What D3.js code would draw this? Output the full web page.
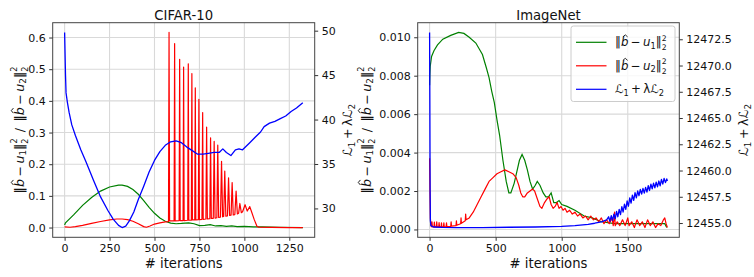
<!DOCTYPE html>
<html>
<head>
<meta charset="utf-8">
<script src="https://cdn.jsdelivr.net/npm/d3@7"></script>
<style>
  body { margin: 0; background: #fff; }
  text { font-family: "DejaVu Sans", sans-serif; fill: #111; }
</style>
</head>
<body>
<svg id="chart" width="754" height="277"></svg>
<script>
// ---- CIFAR-10 (iteration, value) ----
const cifarGreen = [
  [0,0.008],[5,0.015],[50,0.04],[100,0.07],[150,0.095],[200,0.115],[250,0.128],[300,0.134],
  [320,0.134],[350,0.13],[380,0.12],[410,0.105],[440,0.085],[470,0.064],[500,0.045],[530,0.03],
  [560,0.02],[590,0.014],[620,0.012],[650,0.013],[690,0.015],[720,0.012],[750,0.006],[780,0.007],
  [810,0.009],[840,0.005],[870,0.006],[900,0.004],[930,0.005],[960,0.003],[1000,0.004],[1050,0.002],
  [1100,0.002],[1200,0.001],[1325,0.0]
];
const cifarRed = [
  [0,0.002],[30,0.001],[60,0.003],[100,0.007],[150,0.013],[200,0.019],[250,0.024],[290,0.027],
  [320,0.027],[350,0.025],[380,0.02],[410,0.012],[440,0.003],[455,0.001],[475,0.005],[500,0.011],
  [530,0.015],[560,0.018],[578,0.019],
  [581,0.616],[584,0.021],[609,0.021],[612,0.581],[615,0.021],
  [637,0.022],[640,0.531],[643,0.022],[659,0.022],[662,0.507],[665,0.022],
  [685,0.023],[688,0.517],[691,0.023],[705,0.023],[708,0.486],[711,0.024],
  [724,0.024],[727,0.441],[730,0.024],[744,0.025],[747,0.405],[750,0.025],
  [764,0.026],[768,0.363],[771,0.026],[786,0.027],[790,0.317],[794,0.027],
  [808,0.028],[812,0.283],[816,0.029],[827,0.029],[832,0.272],[837,0.03],
  [847,0.031],[852,0.26],[857,0.032],[867,0.033],[873,0.209],[879,0.034],
  [885,0.035],[891,0.178],[897,0.036],[906,0.037],[912,0.157],[918,0.038],
  [926,0.039],[932,0.142],[938,0.04],[947,0.041],[954,0.115],[961,0.043],
  [968,0.045],[975,0.076],[983,0.047],[990,0.05],[1004,0.072],[1016,0.052],
  [1030,0.066],[1040,0.05],[1055,0.025],[1070,0.004],[1080,0.001],[1150,0.0005],[1250,0.0],[1325,0.0]
];
const cifarBlue = [
  [0,49.8],[5,45],[8,43],[15,42],[25,40.8],[40,39.4],[60,38.2],[90,36.6],[120,35.2],[160,33.2],
  [200,31.3],[240,29.8],[270,28.8],[300,28.1],[320,27.85],[340,28.0],[360,28.6],[385,29.6],
  [410,31.0],[440,32.5],[470,34.1],[500,35.4],[530,36.4],[560,37.1],[590,37.5],[620,37.6],
  [650,37.4],[680,36.9],[710,36.5],[740,36.1],[770,36.1],[800,36.2],[830,36.3],[860,36.3],
  [880,36.7],[900,36.3],[925,35.95],[950,36.6],[970,36.7],[990,36.6],[1010,37.0],[1030,37.4],
  [1060,38.0],[1090,38.6],[1110,39.2],[1140,39.6],[1170,39.8],[1200,40.1],[1230,40.4],
  [1260,40.9],[1290,41.3],[1325,41.9]
];

// ---- ImageNet (iteration, value) ----
const imagenetGreen = [
  [0,0.0075],[2,0.0080],[5,0.0085],[15,0.0090],[33,0.0093],[60,0.0096],[100,0.0099],[160,0.0101],
  [220,0.01025],[260,0.0102],[300,0.0100],[350,0.0097],[400,0.0091],[430,0.0084],[450,0.0079],
  [470,0.0072],[490,0.0066],[510,0.0057],[530,0.0049],[555,0.0036],[580,0.0025],[600,0.0019],
  [615,0.0019],[640,0.0024],[660,0.0030],[680,0.0036],[700,0.0039],[720,0.0036],[740,0.0031],
  [760,0.0025],[780,0.0021],[800,0.0023],[815,0.0025],[835,0.0023],[860,0.0019],[880,0.0017],
  [900,0.0017],[920,0.0019],[940,0.0014],[960,0.0014],[980,0.0015],[1000,0.0013],[1040,0.0012],
  [1100,0.0010],[1170,0.0007],[1230,0.0006],[1300,0.0004],[1400,0.0003],[1500,0.0003],
  [1600,0.0003],[1700,0.0003],[1780,0.0003],[1795,0.0001]
];
const imagenetRed = [
  [0,0.0037],[3,0.0020],[6,0.0006],[10,0.0002],
  [15,0.00014],[18,0.0004],[21,0.00014],[33,0.00014],[36,0.00038],[39,0.00014],
  [51,0.00014],[54,0.0004],[57,0.00014],[69,0.00014],[72,0.00036],[75,0.00014],
  [87,0.00014],[90,0.00035],[93,0.00014],[105,0.00014],[108,0.00035],[111,0.00014],
  [125,0.00015],[128,0.00034],[131,0.00015],[160,0.00016],[163,0.0004],[166,0.00017],
  [200,0.0002],[203,0.00045],[206,0.00022],[235,0.0003],[238,0.0006],[241,0.00032],
  [270,0.00045],[273,0.0008],[276,0.0005],[300,0.0006],[330,0.0009],[360,0.0013],[390,0.0017],
  [420,0.0021],[450,0.0025],[480,0.0027],[510,0.0029],[540,0.0030],[570,0.0031],[600,0.0030],
  [630,0.0029],[655,0.0027],[675,0.0023],[690,0.0019],[705,0.0017],[720,0.0017],[740,0.0019],
  [760,0.0020],[780,0.0021],[795,0.0020],[815,0.0016],[835,0.0012],[850,0.0011],[870,0.0014],
  [890,0.0016],[905,0.0017],[920,0.0013],[935,0.0011],[950,0.0012],[965,0.0014],[980,0.0011],
  [995,0.0012],[1010,0.0010],[1025,0.0011],[1040,0.0009],[1060,0.0010],[1080,0.0008],
  [1100,0.0009],[1120,0.0007],[1140,0.0008],[1160,0.0006],[1180,0.0007],[1200,0.0005],
  [1220,0.0007],[1240,0.0005],[1260,0.0006],[1280,0.0004],[1300,0.0006],[1320,0.0003],
  [1340,0.0005],[1360,0.0003],[1380,0.0006],[1390,0.0002],[1400,0.0009],[1405,0.0002],
  [1420,0.0004],[1440,0.0002],[1460,0.0005],[1480,0.0002],[1500,0.0006],[1510,0.0002],
  [1530,0.0004],[1550,0.0001],[1570,0.0005],[1590,0.0002],[1610,0.0004],[1630,0.0001],
  [1650,0.0005],[1670,0.0002],[1690,0.0004],[1710,0.0001],[1730,0.0003],[1750,0.0002],
  [1770,0.0005],[1780,0.0006],[1790,0.0003],[1800,0.0001]
];
const imagenetBlue = [
  [0,12473.15],[2,12466],[4,12458],[6,12455.2],[10,12454.75],[30,12454.62],[100,12454.58],
  [200,12454.57],[400,12454.57],[600,12454.6],[800,12454.62],[1000,12454.68],[1100,12454.75],
  [1200,12454.88],[1250,12454.98],[1300,12455.12],[1340,12455.3],
  [1355,12455.6],[1365,12455.15],[1375,12455.7],[1385,12455.25],[1395,12455.85],[1405,12455.4],
  [1415,12456.1],[1425,12455.6],[1435,12456.3],[1445,12455.8],[1455,12456.55],[1465,12456.05],
  [1475,12456.8],[1485,12456.3],[1495,12457.1],[1505,12456.6],[1515,12457.4],[1525,12456.9],
  [1535,12457.65],[1545,12457.15],[1555,12457.9],[1565,12457.4],[1575,12458.05],[1585,12457.6],
  [1595,12458.2],[1605,12457.75],[1615,12458.3],[1625,12457.85],[1635,12458.4],[1645,12457.95],
  [1655,12458.55],[1665,12458.1],[1675,12458.7],[1685,12458.25],[1695,12458.8],[1705,12458.35],
  [1715,12458.9],[1725,12458.45],[1735,12459.0],[1745,12458.55],[1755,12459.15],[1765,12458.7],
  [1775,12459.25],[1785,12458.85],[1795,12459.2],[1800,12459.0]
];

// ---- ticks ----
const cifarXTicks = [0, 250, 500, 750, 1000, 1250];
const cifarLeftTicks = [0.0, 0.1, 0.2, 0.3, 0.4, 0.5, 0.6];
const cifarRightTicks = [30, 35, 40, 45, 50];
const imagenetXTicks = [0, 500, 1000, 1500];
const imagenetLeftTicks = [0.000, 0.002, 0.004, 0.006, 0.008, 0.010];
const imagenetRightTicks = [12455.0, 12457.5, 12460.0, 12462.5, 12465.0, 12467.5, 12470.0, 12472.5];

const svg = d3.select("#chart");
svg.append("rect").attr("width", 754).attr("height", 277).attr("fill", "#fff");

const tickFs = 11, labelFs = 13.2, mathFs = 12.6, legendFs = 11.8;

// matplotlib style 5% margins
function pad(ext) {
  const m = (ext[1] - ext[0]) * 0.05;
  return [ext[0] - m, ext[1] + m];
}

// mathtext-ish helper: pieces of [text, kind]; hats are drawn as small paths
function addMath(parent, pieces, fs, attrs) {
  const t = parent.append("text");
  Object.keys(attrs || {}).forEach(k => t.attr(k, attrs[k]));
  let base = 0, idx = 0;
  const hats = [];
  pieces.forEach(p => {
    const s = p[0], kind = p[1];
    if (kind === "n" || kind === "i" || kind === "hat") {
      t.append("tspan").attr("dy", -base).attr("font-size", fs)
        .attr("font-style", kind === "n" ? null : "italic").text(s);
      if (kind === "hat") hats.push(idx);
      base = 0;
      idx += s.length;
    } else if (kind === "sub") {
      const sh = 0.22 * fs;
      t.append("tspan").attr("dy", sh - base).attr("font-size", 0.7 * fs).text(s);
      base = sh;
      idx += s.length;
    } else if (kind === "supsub") {
      const up = -0.48 * fs, dn = 0.32 * fs;
      t.append("tspan").attr("dy", up - base).attr("font-size", 0.65 * fs).text("2");
      t.append("tspan").attr("dy", dn - up).attr("dx", -0.636 * 0.65 * fs)
        .attr("font-size", 0.65 * fs).text("2");
      base = dn;
      idx += 2;
    }
  });
  const node = t.node();
  hats.forEach(i => {
    const pos = node.getStartPositionOfChar(i);
    const w = node.getSubStringLength(i, 1);
    const cx = pos.x + w * 0.58, by = pos.y - 0.8 * fs, ty = pos.y - 0.97 * fs, hw = 0.2 * fs;
    parent.append("path")
      .attr("d", `M${cx - hw},${by}L${cx},${ty}L${cx + hw},${by}`)
      .attr("fill", "none").attr("stroke", "#111").attr("stroke-width", 0.075 * fs);
  });
  return t;
}
function norm(k) {
  return [["\u2016", "n"], ["b", "hat"], ["\u2009\u2212\u2009", "n"], ["u", "i"],
          [k, "sub"], ["\u2016", "n"], ["", "supsub"]];
}
const lossPieces = [["\u2112", "n"], ["1", "sub"], ["\u2009+\u2009", "n"], ["\u03bb", "n"],
                    ["\u2112", "n"], ["2", "sub"], ["", "n"]];

function drawPanel(o) {
  const all = o.green.concat(o.red);
  const x = d3.scaleLinear().domain(pad(d3.extent(all.concat(o.blue), d => d[0]))).range([o.x0, o.x1]);
  const yL = d3.scaleLinear().domain(pad(d3.extent(all, d => d[1]))).range([o.y1, o.y0]);
  const yR = d3.scaleLinear().domain(pad(d3.extent(o.blue, d => d[1]))).range([o.y1, o.y0]);

  const g = svg.append("g");

  // grid
  g.selectAll(".gx").data(o.xTicks).enter().append("line")
    .attr("x1", d => x(d)).attr("x2", d => x(d)).attr("y1", o.y0).attr("y2", o.y1)
    .attr("stroke", "#d9d9d9").attr("stroke-width", 1.1);
  g.selectAll(".gy").data(o.leftTicks).enter().append("line")
    .attr("y1", d => yL(d)).attr("y2", d => yL(d)).attr("x1", o.x0).attr("x2", o.x1)
    .attr("stroke", "#d9d9d9").attr("stroke-width", 1.1);

  const clipId = "clip" + o.id;
  svg.append("clipPath").attr("id", clipId).append("rect")
    .attr("x", o.x0).attr("y", o.y0).attr("width", o.x1 - o.x0).attr("height", o.y1 - o.y0);
  const lines = g.append("g").attr("clip-path", `url(#${clipId})`);

  const lineL = d3.line().x(d => x(d[0])).y(d => yL(d[1]));
  const lineR = d3.line().x(d => x(d[0])).y(d => yR(d[1]));
  lines.append("path").datum(o.green).attr("d", lineL).attr("fill", "none")
    .attr("stroke", "#008000").attr("stroke-width", 1.2);
  lines.append("path").datum(o.red).attr("d", lineL).attr("fill", "none")
    .attr("stroke", "#ff0000").attr("stroke-width", 1.2).attr("stroke-linejoin", "round");
  lines.append("path").datum(o.blue).attr("d", lineR).attr("fill", "none")
    .attr("stroke", "#0000ff").attr("stroke-width", 1.3).attr("stroke-linejoin", "round");

  // frame
  g.append("rect").attr("x", o.x0).attr("y", o.y0).attr("width", o.x1 - o.x0)
    .attr("height", o.y1 - o.y0).attr("fill", "none").attr("stroke", "#444").attr("stroke-width", 1);

  function styleAxis(sel) {
    sel.select(".domain").remove();
    sel.selectAll(".tick line").attr("stroke", "#333");
    sel.selectAll(".tick text").attr("font-size", tickFs)
      .attr("font-family", "DejaVu Sans").attr("fill", "#111");
  }
  g.append("g").attr("transform", `translate(0,${o.y1})`)
    .call(d3.axisBottom(x).tickValues(o.xTicks).tickFormat(d3.format("d")).tickSize(3.5).tickPadding(3.3))
    .call(styleAxis);
  g.append("g").attr("transform", `translate(${o.x0},0)`)
    .call(d3.axisLeft(yL).tickValues(o.leftTicks).tickFormat(d3.format(o.leftFmt)).tickSize(3.5).tickPadding(3.5))
    .call(styleAxis);
  g.append("g").attr("transform", `translate(${o.x1},0)`)
    .call(d3.axisRight(yR).tickValues(o.rightTicks).tickFormat(d3.format(o.rightFmt)).tickSize(3.5).tickPadding(3.5))
    .call(styleAxis);

  const cx = (o.x0 + o.x1) / 2, cy = (o.y0 + o.y1) / 2;
  g.append("text").attr("x", cx).attr("y", 20).attr("text-anchor", "middle")
    .attr("font-size", labelFs).text(o.title);
  g.append("text").attr("x", cx).attr("y", 268).attr("text-anchor", "middle")
    .attr("font-size", labelFs).text("# iterations");

  const ylg = g.append("g").attr("transform", `translate(${o.leftLabelX},${cy}) rotate(-90)`);
  addMath(ylg, norm("1").concat([["\u2002/\u2002", "n"]], norm("2"), [["", "n"]]), mathFs,
          { "text-anchor": "middle" });

  const yrg = g.append("g").attr("transform", `translate(${o.rightLabelX},${cy}) rotate(-90)`);
  addMath(yrg, lossPieces, mathFs, { "text-anchor": "middle" });

  return { x, yL, yR };
}

drawPanel({
  id: "c", title: "CIFAR-10", x0: 52.7, x1: 314.7, y0: 22.7, y1: 237.3,
  green: cifarGreen, red: cifarRed, blue: cifarBlue,
  xTicks: cifarXTicks, leftTicks: cifarLeftTicks, rightTicks: cifarRightTicks,
  leftFmt: ".1f", rightFmt: "d", leftLabelX: 23.5, rightLabelX: 352
});
drawPanel({
  id: "i", title: "ImageNet", x0: 417.7, x1: 679.3, y0: 22.7, y1: 237.3,
  green: imagenetGreen, red: imagenetRed, blue: imagenetBlue,
  xTicks: imagenetXTicks, leftTicks: imagenetLeftTicks, rightTicks: imagenetRightTicks,
  leftFmt: ".3f", rightFmt: ".1f", leftLabelX: 370.5, rightLabelX: 748
});

// legend (ImageNet panel)
const legendItems = [
  { color: "#008000", pieces: norm("1").concat([["", "n"]]) },
  { color: "#ff0000", pieces: norm("2").concat([["", "n"]]) },
  { color: "#0000ff", pieces: lossPieces }
];
const lg = svg.append("g");
lg.append("rect").attr("x", 571).attr("y", 26).attr("width", 104).attr("height", 75.5)
  .attr("rx", 2.5).attr("fill", "#fff").attr("fill-opacity", 0.8)
  .attr("stroke", "#cccccc").attr("stroke-width", 1);
const legendY = d3.scalePoint().domain(d3.range(legendItems.length)).range([42.3, 89.3]);
legendItems.forEach((it, i) => {
  const yy = legendY(i);
  lg.append("line").attr("x1", 576).attr("x2", 606.5).attr("y1", yy).attr("y2", yy)
    .attr("stroke", it.color).attr("stroke-width", 1.2);
  addMath(lg, it.pieces, legendFs, { x: 615, y: yy + 4 });
});
</script>
</body>
</html>
